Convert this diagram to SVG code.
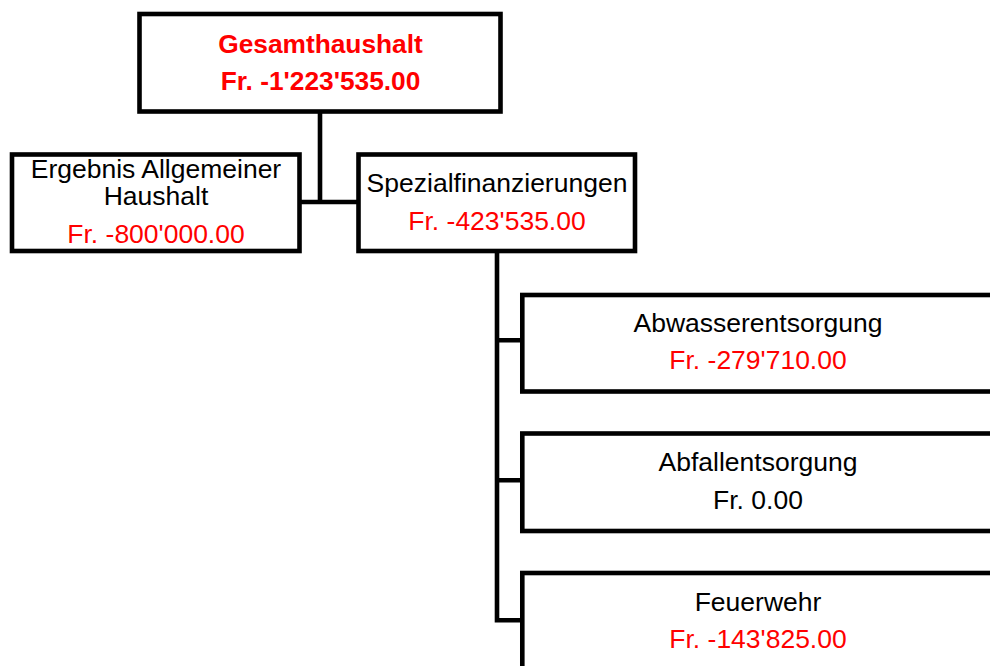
<svg xmlns="http://www.w3.org/2000/svg" width="990" height="666" viewBox="0 0 990 666">
<style>
.box{fill:#fff;stroke:#000;stroke-width:4.6}
.con{fill:none;stroke:#000;stroke-width:4.6;stroke-linecap:square}
text{font-family:"Liberation Sans",Arial,sans-serif;font-size:26.5px;text-anchor:middle;fill:#000}
.red{fill:#ff0000}
.b{font-weight:bold;font-size:26.3px}
</style>
<rect width="990" height="666" fill="#fff"/>
<g id="connectors">
<path class="con" d="M320,112 V202 M301,202 H357"/>
<path class="con" d="M497,252 V620 M497,340.3 H522 M497,480.3 H522 M497,620.3 H522"/>
</g>
<g id="gesamthaushalt">
<rect class="box" x="139.5" y="14" width="361" height="97.5"/>
<text class="red b" x="320.5" y="52.7">Gesamthaushalt</text>
<text class="red b" x="320.5" y="90">Fr. -1'223'535.00</text>
</g>
<g id="allgemeiner-haushalt">
<rect class="box" x="12" y="154.5" width="287.5" height="96.5"/>
<text x="156" y="177.7">Ergebnis Allgemeiner</text>
<text x="156" y="205">Haushalt</text>
<text class="red" x="156" y="243.3">Fr. -800'000.00</text>
</g>
<g id="spezialfinanzierungen">
<rect class="box" x="358.5" y="154.5" width="276.5" height="96.5"/>
<text x="497" y="191.7">Spezialfinanzierungen</text>
<text class="red" x="497" y="230">Fr. -423'535.00</text>
</g>
<g id="abwasserentsorgung">
<rect class="box" x="522.3" y="295" width="472" height="96.5"/>
<text x="758" y="332">Abwasserentsorgung</text>
<text class="red" x="758" y="369">Fr. -279'710.00</text>
</g>
<g id="abfallentsorgung">
<rect class="box" x="522.3" y="433.5" width="472" height="97.5"/>
<text x="758" y="471">Abfallentsorgung</text>
<text x="758" y="509">Fr. 0.00</text>
</g>
<g id="feuerwehr">
<rect class="box" x="522.3" y="573" width="472" height="97"/>
<text x="758" y="611">Feuerwehr</text>
<text class="red" x="758" y="648">Fr. -143'825.00</text>
</g>
</svg>
